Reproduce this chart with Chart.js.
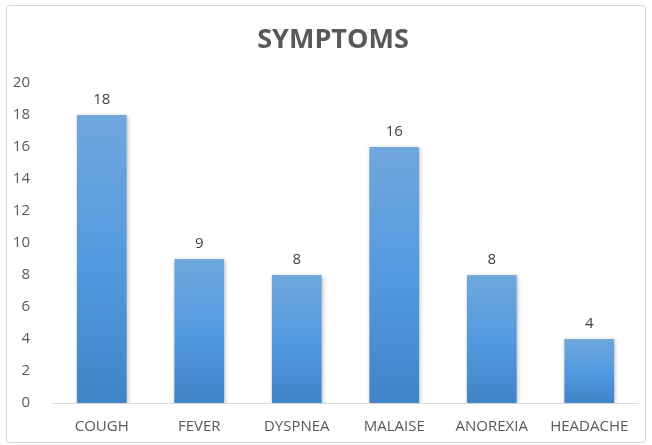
<!DOCTYPE html>
<html>
<head>
<meta charset="utf-8">
<script src="https://cdn.jsdelivr.net/npm/chart.js@4/dist/chart.umd.min.js"></script>
<style>
  html, body { margin: 0; padding: 0; background: #fff; }
  #box { position: absolute; left: 6px; top: 5px; width: 638px; height: 436px; border: 1px solid #d9d9d9; border-radius: 3px; }
  #wrap { position: absolute; left: 0; top: 0; width: 652px; height: 445px; }
</style>
</head>
<body>
<div id="box"></div>
<div id="wrap"><canvas id="grafica"></canvas></div>
<script>
var titulo = "SYMPTOMS";
var categorias = ["COUGH", "FEVER", "DYSPNEA", "MALAISE", "ANOREXIA", "HEADACHE"];
var valores = [18, 9, 8, 16, 8, 4];
var ticksY = [0, 2, 4, 6, 8, 10, 12, 14, 16, 18, 20];

var fuente = "'Open Sans', 'Noto Sans', sans-serif";

// degradado por barra, de claro arriba a oscuro abajo
function colorBarra(ctx) {
  var chart = ctx.chart;
  var y = chart.scales.y;
  if (!y || ctx.dataIndex === undefined) return "#5b9bd5";
  var top = y.getPixelForValue(valores[ctx.dataIndex]);
  var base = y.getPixelForValue(0);
  if (!isFinite(top) || !isFinite(base)) return "#5b9bd5";
  var g = chart.ctx.createLinearGradient(0, top, 0, base);
  g.addColorStop(0, "#70a7dc");
  g.addColorStop(0.5, "#549ae0");
  g.addColorStop(1, "#3f84c7");
  return g;
}

// etiquetas encima de cada barra y titulo
var etiquetas = {
  id: "etiquetas",
  afterDatasetsDraw: function(chart) {
    var c = chart.ctx;
    var meta = chart.getDatasetMeta(0);
    c.save();
    c.font = "15px " + fuente;
    c.fillStyle = "#404040";
    c.textAlign = "center";
    c.textBaseline = "bottom";
    meta.data.forEach(function(bar, i) {
      c.fillText(String(valores[i]), bar.x, bar.y - 8);
    });
    c.font = "bold 27px " + fuente;
    c.fillStyle = "#595959";
    c.textBaseline = "middle";
    c.fillText(titulo, 333, 40);
    c.restore();
  }
};

// sombra suave de las barras
var sombra = {
  id: "sombra",
  beforeDatasetsDraw: function(chart) {
    chart.ctx.save();
    chart.ctx.shadowColor = "rgba(0,0,0,0.25)";
    chart.ctx.shadowBlur = 4;
    chart.ctx.shadowOffsetX = 1;
    chart.ctx.shadowOffsetY = 1;
  },
  afterDatasetsDraw: function(chart) {
    chart.ctx.restore();
  }
};

var ctx = document.getElementById("grafica").getContext("2d");

var chart = new Chart(ctx, {
  type: "bar",
  data: {
    labels: categorias,
    datasets: [{
      label: "Symptoms",
      data: valores,
      backgroundColor: colorBarra,
      borderWidth: 0,
      categoryPercentage: 1,
      barPercentage: 0.51
    }]
  },
  options: {
    responsive: true,
    maintainAspectRatio: false,
    animation: false,
    layout: { padding: { left: 0, right: 14, top: 83, bottom: 0 } },
    plugins: {
      legend: { display: false },
      tooltip: { enabled: false },
      title: { display: false }
    },
    scales: {
      x: {
        grid: { display: false },
        border: { color: "#d9d9d9", width: 1 },
        ticks: { color: "#595959", font: { family: fuente, size: 15 }, padding: 7, maxRotation: 0, autoSkip: false },
        afterFit: function(s) { s.height = 42; }
      },
      y: {
        min: 0,
        max: 20,
        afterBuildTicks: function(s) { s.ticks = ticksY.map(function(v) { return { value: v }; }); },
        grid: { display: false },
        border: { display: false },
        ticks: { color: "#595959", font: { family: fuente, size: 15 }, padding: 15 },
        afterFit: function(s) { s.width = 53; }
      }
    }
  },
  plugins: [sombra, etiquetas]
});
</script>
</body>
</html>
